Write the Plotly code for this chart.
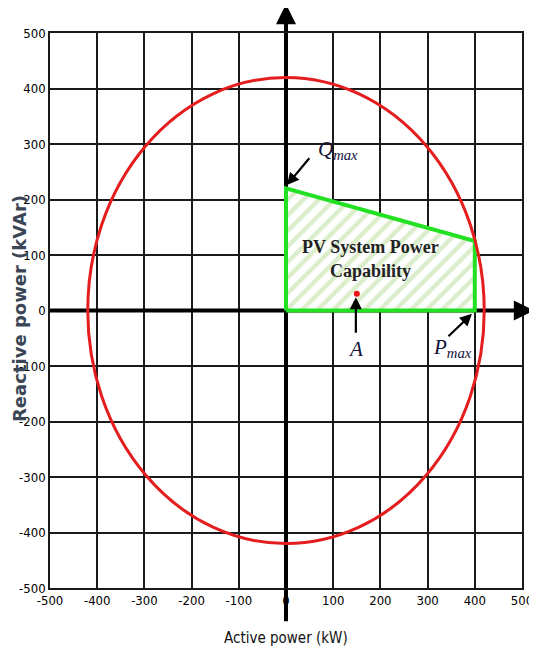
import plotly.graph_objects as go

# ---- data ----
ticks = [-500, -400, -300, -200, -100, 0, 100, 200, 300, 400, 500]
tick_labels = [str(t) for t in ticks]
apparent_power_limit = 420          # kVA radius of capability circle
region_p = [0, 0, 400, 400, 0]      # kW
region_q = [0, 220, 125, 0, 0]      # kVAr
point_a_p = [150]
point_a_q = [30]

axis_min, axis_max = -500, 500
x_arrow_tip = 525
y_arrow_tip = 552
y_axis_bottom = -560

# annotation anchors (data units)
q_label = dict(x=110, y=290, head=(2, 226), tail=(52, 277))
p_label = dict(x=352, y=-68, head=(394, -6), tail=(341, -49))
a_label = dict(x=148, y=-70, head=(148, 24), tail=(148, -43))

fig = go.Figure()

# axis lines inside plotting area
fig.add_trace(go.Scatter(x=[axis_min, axis_max], y=[0, 0], mode="lines",
                         line=dict(color="black", width=4), hoverinfo="skip", showlegend=False))
fig.add_trace(go.Scatter(x=[0, 0], y=[axis_min, axis_max], mode="lines",
                         line=dict(color="black", width=4), hoverinfo="skip", showlegend=False))

# capability region
fig.add_trace(go.Scatter(
    x=region_p, y=region_q, mode="lines", fill="toself",
    fillcolor="rgba(0,0,0,0)",
    fillpattern=dict(shape="/", fgcolor="#b9dc98", bgcolor="white", size=11, solidity=0.4),
    line=dict(color="#22e022", width=4), hoverinfo="skip", showlegend=False))

# point A
fig.add_trace(go.Scatter(x=point_a_p, y=point_a_q, mode="markers",
                         marker=dict(color="#ee1111", size=6), showlegend=False))

# capability circle
fig.add_shape(type="circle", xref="x", yref="y",
              x0=-apparent_power_limit, x1=apparent_power_limit,
              y0=-apparent_power_limit, y1=apparent_power_limit,
              line=dict(color="#e41e1e", width=3), layer="above")

ann = []
# axis extensions with arrows
ann.append(dict(x=x_arrow_tip, y=0, ax=axis_max, ay=0, xref="x", yref="y", axref="x", ayref="y",
                text="", showarrow=True, arrowhead=2, arrowsize=1.0, arrowwidth=4, arrowcolor="black"))
ann.append(dict(x=0, y=y_arrow_tip, ax=0, ay=axis_max, xref="x", yref="y", axref="x", ayref="y",
                text="", showarrow=True, arrowhead=2, arrowsize=1.0, arrowwidth=4, arrowcolor="black"))
ann.append(dict(x=0, y=y_axis_bottom, ax=0, ay=axis_min, xref="x", yref="y", axref="x", ayref="y",
                text="", showarrow=True, arrowhead=0, arrowwidth=4, arrowcolor="black"))

serif = "Liberation Serif, Times New Roman, serif"
for lab, txt in [(q_label, "<i>Q</i><sub><i>max</i></sub>"),
                 (p_label, "<i>P</i><sub><i>max</i></sub>"),
                 (a_label, "<i>A</i>")]:
    ann.append(dict(x=lab["head"][0], y=lab["head"][1], ax=lab["tail"][0], ay=lab["tail"][1],
                    xref="x", yref="y", axref="x", ayref="y", text="", showarrow=True,
                    arrowhead=2, arrowsize=1.1, arrowwidth=2.2, arrowcolor="black"))
    ann.append(dict(x=lab["x"], y=lab["y"], xref="x", yref="y", text=txt, showarrow=False,
                    font=dict(family=serif, size=21, color="#14143a")))

ann.append(dict(x=180, y=114, xref="x", yref="y", text="<b>PV System Power</b>", showarrow=False,
                font=dict(family=serif, size=18, color="#222222")))
ann.append(dict(x=180, y=72, xref="x", yref="y", text="<b>Capability</b>", showarrow=False,
                font=dict(family=serif, size=18, color="#222222")))

narrow = "DejaVu Sans Condensed, Liberation Sans Narrow, Liberation Sans"
# axis titles
ann.append(dict(x=0.5, y=-0.09, xref="paper", yref="paper", xanchor="center", yanchor="middle",
                text="Active power (kW)", showarrow=False,
                font=dict(family=narrow, size=15, color="#111111")))
ann.append(dict(x=-0.0657, y=0.5045, xref="paper", yref="paper", xanchor="center", yanchor="middle",
                text="<b>Reactive power (kVAr)</b>", textangle=-90, showarrow=False,
                font=dict(family="DejaVu Sans, Liberation Sans", size=18, color="#3a4656")))

tickfont = dict(family=narrow, size=13, color="#000000")
axis_common = dict(range=[axis_min, axis_max], tickmode="array", tickvals=ticks, ticktext=tick_labels,
                   showgrid=True, gridcolor="#1a1a1a", gridwidth=1.5, zeroline=False,
                   showline=True, linecolor="#1a1a1a", linewidth=1.5, mirror=True,
                   ticks="", tickfont=tickfont, fixedrange=True, automargin=False)

# page body adds an 8px margin, so the figure is sized to fit inside the window
fig.update_layout(
    width=529, height=641,
    margin=dict(l=42, r=15, t=25, b=61, autoexpand=False),
    paper_bgcolor="white", plot_bgcolor="white",
    xaxis=dict(**axis_common),
    yaxis=dict(**axis_common),
    annotations=ann,
    showlegend=False,
)

fig.write_html("out.html")
